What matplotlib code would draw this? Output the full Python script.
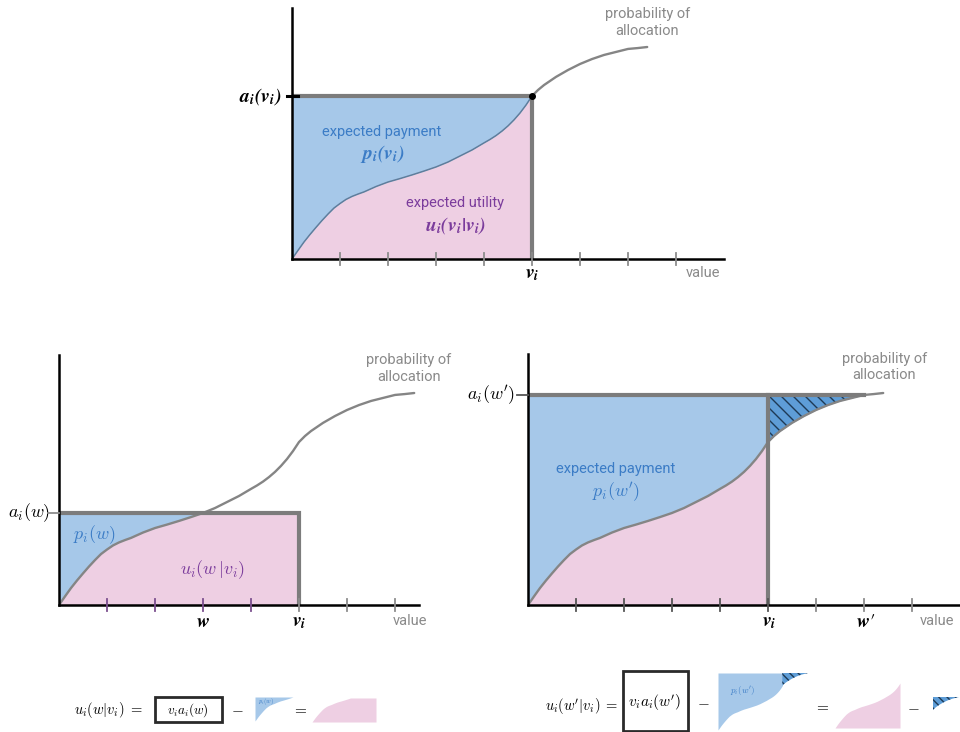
import numpy as np
import matplotlib
import matplotlib.pyplot as plt
from matplotlib.patches import Rectangle

plt.rcParams['font.family'] = ['Roboto', 'DejaVu Sans']
plt.rcParams['mathtext.fontset'] = 'cm'
plt.rcParams['hatch.linewidth'] = 1.0

# ---- data: probability of allocation as a function of value ----
value = [0, 0.125, 0.25, 0.375, 0.5, 0.625, 0.75, 0.875, 1.0, 1.125, 1.25,
         1.375, 1.5, 1.75, 2.0, 2.25, 2.5, 2.75, 3.0, 3.25, 3.5, 3.75, 4.0,
         4.125, 4.25, 4.375, 4.5, 4.625, 4.75, 4.875, 5.0, 5.125, 5.25, 5.375,
         5.5, 5.75, 6.0, 6.25, 6.5, 6.75, 7.0, 7.2, 7.4]
alloc = [0.0, 0.040, 0.079, 0.114, 0.147, 0.179, 0.209, 0.237, 0.258, 0.277,
         0.291, 0.302, 0.312, 0.337, 0.358, 0.374, 0.391, 0.409, 0.428, 0.451,
         0.479, 0.507, 0.540, 0.556, 0.574, 0.595, 0.619, 0.647, 0.679, 0.716,
         0.758, 0.786, 0.809, 0.828, 0.847, 0.879, 0.907, 0.930, 0.949, 0.963,
         0.977, 0.981, 0.986]
tick_values_top = [1, 2, 3, 4, 5, 6, 7, 8]
tick_values_left = [1, 2, 3, 4, 5, 6, 7]
tick_values_right = [1, 2, 3, 4, 5, 6, 7, 8]
v_i = 5.0      # true value
w = 3.0        # under-report
w_prime = 7.0  # over-report

x = np.array(value)
a = np.array(alloc)
a_v = float(np.interp(v_i, x, a))
a_w = float(np.interp(w, x, a))
a_wp = float(np.interp(w_prime, x, a))

W, H = 960, 732
PXU, PYU = 48, 215
fig = plt.figure(figsize=(9.6, 7.32), dpi=100)

BLUE = '#a6c8e9'
PINK = '#eecfe3'
HATCHF = '#5e9dd7'
HATCHC = '#1e3a55'
BOX = '#7c7c7c'
CURVE = '#858585'
BTXT = '#3b7cc6'
PTXT = '#7b3c9c'
GTXT = '#8a8a8a'


def make_ax(ox, oy, xmax, ytop_px):
    hpx = oy - ytop_px
    wpx = xmax * PXU
    ax = fig.add_axes([ox / W, (H - oy) / H, wpx / W, hpx / H])
    ax.set_xlim(0, xmax)
    ax.set_ylim(0, hpx / PYU)
    ax.patch.set_visible(False)
    for s in ['top', 'right']:
        ax.spines[s].set_visible(False)
    for s in ['left', 'bottom']:
        ax.spines[s].set_linewidth(1.8)
        ax.spines[s].set_color('black')
        ax.spines[s].set_zorder(4)
    ax.set_xticks([])
    ax.set_yticks([])
    return ax


def ticks(ax, vals, colors):
    for t, c in zip(vals, colors):
        ax.plot([t, t], [-0.028, 0.028], color=c, lw=1.3, clip_on=False, zorder=5)


def curve(ax, xs, ys, color=CURVE, lw=1.7):
    ax.plot(xs, ys, color=color, lw=lw, zorder=2, solid_joinstyle='round',
            solid_capstyle='round')


def mini_ax(x0, y0, x1, y1, xlim, ylim):
    ax = fig.add_axes([x0 / W, (H - y1) / H, (x1 - x0) / W, (y1 - y0) / H])
    ax.set_xlim(*xlim)
    ax.set_ylim(*ylim)
    ax.axis('off')
    return ax


def ftext(px, py, s, **kw):
    fig.text(px / W, (H - py) / H, s, **kw)


def fbox(x0, y0, x1, y1):
    fig.add_artist(Rectangle((x0 / W, (H - y1) / H), (x1 - x0) / W, (y1 - y0) / H,
                             transform=fig.transFigure, fill=False,
                             edgecolor='#2a2a2a', lw=2))


BOLD = dict(math_fontfamily='stix')

# ================= top chart =================
ax = make_ax(292, 259, 9.0, 8)
m = x <= v_i
ax.fill_between(x[m], a[m], a_v, color=BLUE, lw=0, zorder=1)
ax.fill_between(x[m], 0, a[m], color=PINK, lw=0, zorder=1)
curve(ax, x[m], a[m], color='#5f7d9c', lw=1.1)
curve(ax, x[x >= v_i], a[x >= v_i])
ax.plot([0, v_i, v_i], [a_v, a_v, 0], color=BOX, lw=3, zorder=3, solid_joinstyle='miter')
ax.plot([v_i], [a_v], 'o', color='black', ms=4, zorder=6)
ax.plot([-0.11, 0.12], [a_v, a_v], color='black', lw=2.2, clip_on=False, zorder=5)
ticks(ax, tick_values_top, ['#8c8c8c'] * 8)
ax.text(-0.22, a_v, r'$\mathbfit{a_i(v_i)}$', ha='right', va='center', fontsize=14, **BOLD)
ax.text(v_i, -0.07, r'$\mathbfit{v_i}$', ha='center', va='center', fontsize=14, **BOLD)
ax.text(1.875, 0.59, 'expected payment', ha='center', va='center', fontsize=10.5, color=BTXT)
ax.text(1.875, 0.49, r'$\mathbfit{p_i(v_i)}$', ha='center', va='center', fontsize=14, color=BTXT, **BOLD)
ax.text(3.4, 0.26, 'expected utility', ha='center', va='center', fontsize=10.5, color=PTXT)
ax.text(3.4, 0.155, r'$\mathbfit{u_i(v_i|v_i)}$', ha='center', va='center', fontsize=14, color=PTXT, **BOLD)
ax.text(7.4, 1.10, 'probability of\nallocation', ha='center', va='center', fontsize=10.5,
        color=GTXT, linespacing=1.25)
ax.text(8.56, -0.065, 'value', ha='center', va='center', fontsize=10.5, color=GTXT)

# ================= bottom-left chart =================
ax = make_ax(59, 605, 7.5, 355)
m5 = x <= v_i
m3 = x <= w
ax.fill_between(x[m5], 0, np.minimum(a[m5], a_w), color=PINK, lw=0, zorder=1)
ax.fill_between(x[m3], a[m3], a_w, color=BLUE, lw=0, zorder=1)
curve(ax, x, a)
ax.plot([0, v_i, v_i], [a_w, a_w, 0], color=BOX, lw=3, zorder=3, solid_joinstyle='miter')
ax.plot([-0.23, 0.0], [a_w, a_w], color='#8c8c8c', lw=1.3, clip_on=False, zorder=5)
ticks(ax, tick_values_left, ['#7b4f8e'] * 4 + ['#8c8c8c'] * 3)
ax.text(-0.19, a_w, r'$a_i(w)$', ha='right', va='center', fontsize=13)
ax.text(0.73, 0.326, r'$p_i(w)$', ha='center', va='center', fontsize=13, color=BTXT)
ax.text(3.19, 0.163, r'$u_i(w\,|v_i)$', ha='center', va='center', fontsize=13, color=PTXT)
ax.text(w, -0.08, r'$\mathbfit{w}$', ha='center', va='center', fontsize=14, **BOLD)
ax.text(v_i, -0.08, r'$\mathbfit{v_i}$', ha='center', va='center', fontsize=14, **BOLD)
ax.text(7.31, -0.074, 'value', ha='center', va='center', fontsize=10.5, color=GTXT)
ax.text(7.29, 1.10, 'probability of\nallocation', ha='center', va='center', fontsize=10.5,
        color=GTXT, linespacing=1.25)

# ================= bottom-right chart =================
ax = make_ax(528, 605, 9.0, 354)
mh = (x >= v_i) & (x <= w_prime)
ax.fill_between(x[m5], a[m5], a_wp, color=BLUE, lw=0, zorder=1)
ax.fill_between(x[m5], 0, a[m5], color=PINK, lw=0, zorder=1)
hpoly = ax.fill_between(x[mh], a[mh], a_wp, color=HATCHF, lw=0, zorder=1)
hpath = hpoly.get_paths()[0]
for k in range(0, 20):
    xs = v_i - 1.0 + k * 12 / PXU
    s = np.array([0, 120])
    ln, = ax.plot(xs + s / PXU, a_wp - s / PYU, color=HATCHC, lw=1.0, zorder=1.5)
    ln.set_clip_path(hpath, ax.transData)
curve(ax, x, a)
ax.plot([0, w_prime], [a_wp, a_wp], color=BOX, lw=3, zorder=3)
ax.plot([v_i, v_i], [0, a_wp], color=BOX, lw=3, zorder=3)
ax.plot([-0.23, 0.0], [a_wp, a_wp], color='#555555', lw=1.3, clip_on=False, zorder=5)
ticks(ax, tick_values_right, ['#555555'] * 5 + ['#8c8c8c'] * 3)
ax.text(-0.27, a_wp, r"$a_i(w')$", ha='right', va='center', fontsize=13)
ax.text(1.83, 0.633, 'expected payment', ha='center', va='center', fontsize=10.5, color=BTXT)
ax.text(1.83, 0.526, r"$p_i(w')$", ha='center', va='center', fontsize=13, color=BTXT)
ax.text(v_i + 0.02, -0.08, r'$\mathbfit{v_i}$', ha='center', va='center', fontsize=14, **BOLD)
ax.text(w_prime + 0.04, -0.08, r"$\mathbfit{w}\prime$", ha='center', va='center', fontsize=14, **BOLD)
ax.text(8.52, -0.074, 'value', ha='center', va='center', fontsize=10.5, color=GTXT)
ax.text(7.42, 1.107, 'probability of\nallocation', ha='center', va='center', fontsize=10.5,
        color=GTXT, linespacing=1.25)

# ================= equation rows =================
# left
ftext(108, 710, r'$u_i(w|v_i)\;=$', ha='center', va='center', fontsize=10.5)
fbox(155, 697, 222, 722)
ftext(188, 710, r'$v_ia_i(w)$', ha='center', va='center', fontsize=9.5)
ftext(237, 709, r'$-$', ha='center', va='center', fontsize=11)
mb = mini_ax(255, 697, 293, 721, (0, w), (0, a_w))
mb.fill_between(x[m3], a[m3], a_w, color=BLUE, lw=0)
mb.text(0.25, a_w * 0.8, r'$p_i(w)$', fontsize=4.5, color=BTXT, va='center')
ftext(300, 709, r'$=$', ha='center', va='center', fontsize=11)
mp = mini_ax(312, 698, 376, 722, (0, v_i), (0, a_w))
mp.fill_between(x[m5], 0, np.minimum(a[m5], a_w), color=PINK, lw=0)

# right
ftext(582, 706, r"$u_i(w'|v_i)\;=$", ha='center', va='center', fontsize=10.5)
fbox(623, 671, 688, 731)
ftext(655, 703, r"$v_ia_i(w')$", ha='center', va='center', fontsize=11)
ftext(703, 702, r'$-$', ha='center', va='center', fontsize=11)
mb2 = mini_ax(718, 673, 808, 730, (0, w_prime), (0, a_wp))
mb2.fill_between(x[m5], a[m5], a_wp, color=BLUE, lw=0)
mb2.fill_between(x[mh], a[mh], a_wp, facecolor=HATCHF, edgecolor=HATCHC, hatch='\\\\\\\\', lw=0)
mb2.text(1.9, a_wp * 0.7, r"$p_i(w')$", fontsize=6.5, color=BTXT, ha='center', va='center')
ftext(822, 706, r'$=$', ha='center', va='center', fontsize=11)
mp2 = mini_ax(835, 683, 900, 728, (0, v_i), (0, a_v))
mp2.fill_between(x[m5], 0, a[m5], color=PINK, lw=0)
ftext(913, 707, r'$-$', ha='center', va='center', fontsize=11)
mh2 = mini_ax(933, 697, 959, 710, (v_i, w_prime), (a_v, a_wp))
mh2.fill_between(x[mh], a[mh], a_wp, facecolor=HATCHF, edgecolor=HATCHC, hatch='\\\\\\\\', lw=0)

fig.savefig('out.png', dpi=100)
